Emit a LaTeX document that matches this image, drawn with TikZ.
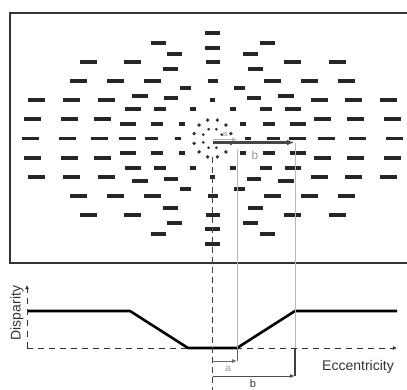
\documentclass[tikz,border=0pt]{standalone}
\usepackage{fontspec}
\setmainfont{Liberation Sans}
\usetikzlibrary{arrows.meta,calc}

\begin{document}
\begin{tikzpicture}[x=1pt, y=-1pt,
  bar/.style={line width=3.2pt, black!85},
  dotm/.style={fill=black!80},
  guide/.style={gray!55, line width=0.8pt},
  cline/.style={dashed, dash pattern=on 6pt off 4pt, black!75, line width=0.9pt},
  curve/.style={line width=2.6pt, black, line join=round},
  axis/.style={dashed, dash pattern=on 6pt off 5pt, line width=1pt, black!80,
               -{Latex[length=4pt, width=4pt]}},
  arr/.style={-{Latex[length=5pt, width=4pt]}, line width=1pt, black!70},
  lab/.style={font=\fontsize{14}{14}\selectfont, inner sep=1pt, black!80},
  sml/.style={font=\fontsize{10}{10}\selectfont, inner sep=1pt, gray!80}
]
\useasboundingbox (0,0) rectangle (407,390);

%% Stimulus frame
\draw[line width=1.6pt, black!80] (10,13) rectangle (410,263);

%% Centre of the pattern
\coordinate (ctr) at (212.5,138.5);

%% Dashes, mirrored into the four quadrants (dx/dy/width)
\foreach \dx/\dy/\w in {0/105.5/15, 0/90.5/15, 0/76.5/14, 0/57.5/10, 0/38.5/5,
    54.5/95.5/15, 38/84.5/15,
    124.5/76.5/17, 80/76.5/17, 42.5/69.5/15,
    134/57.5/17, 97/57.5/17, 60/57.5/17, 27/50.5/11,
    73/42.5/16, 41.5/40.5/14,
    176/38.5/17, 141/38.5/17, 106.5/38.5/17,
    80/29.5/16, 53/29.5/12, 20/29.5/6,
    180/19.5/17, 143/19.5/17, 110/19.5/17,
    85/14.5/16, 56/14.5/12, 30.5/14.5/6,
    182/0/17, 145/0/17, 113.5/0/17, 85/0/17, 61/0/13, 35/0/6}{
  \foreach \sx in {-1,1}{
    \foreach \sy in {-1,1}{
      \draw[bar] ($(ctr)+({\sx*\dx-\w/2},{\sy*\dy})$) -- ++(\w,0);
    }
  }
}

%% Dots round the centre
\foreach \i in {0,...,11}
  \fill[dotm] (ctr) ++(\i*30+15:19) circle (1.9);
\foreach \i in {0,...,7}
  \fill[dotm] (ctr) ++(\i*45+22.5:10) circle (1.5);

%% Radius arrows a and b
\coordinate (tipa) at (237,139.5);
\coordinate (tipb) at (294,142.5);
\draw[-{Latex[length=7pt, width=6pt]}, line width=2.4pt, gray!55!black]
  (ctr |- tipb) -- (tipb);
\draw[-{Latex[length=5pt, width=4pt]}, line width=1.3pt, gray!60]
  (ctr |- tipa) -- (tipa);
\node[sml, font=\fontsize{8}{8}\selectfont] (la) at (225,134) {a};
\node[sml, font=\fontsize{12}{12}\selectfont] (lb) at (255,155) {b};

%% Disparity profile
\coordinate (org) at (27,348);
\coordinate (ytop) at (27,285);
\coordinate (xend) at (397,348);
\draw[axis] (org) -- (ytop);
\draw[axis] (org) -- (xend);
\node[lab, rotate=90] (ldisp) at (17,313) {Disparity};
\node[lab, anchor=east] (lecc) at (395,367) {Eccentricity};

\coordinate (c1) at (28,311);
\coordinate (c2) at (130,311);
\coordinate (c3) at (188,348);
\coordinate (c4) at (237,348);
\coordinate (c5) at (295,311);
\coordinate (c6) at (397,311);
\draw[curve] (c1) -- (c2) -- (c3) -- (c4) -- (c5) -- (c6);

%% Guides from the pattern down to the profile
\coordinate (da0) at (212.5,361);
\coordinate (da1) at (237,361);
\coordinate (db0) at (212.5,376);
\coordinate (db1) at (295,376);
\draw[cline] (212.5,157) -- (212.5,390);
\draw[guide] (237,149) -- (c4);
\draw[guide] (295,143) -- (295,348);

%% Dimension arrows a and b
\draw[black!60, line width=1pt] (c4) -- (da1);
\draw[arr, black!60] (da0) -- (da1);
\draw[black!75, line width=1.2pt] (295,348) -- (db1);
\draw[arr] (db0) -- (db1);
\node[sml] (lda) at (228,369) {a};
\node[lab, font=\fontsize{11}{11}\selectfont] (ldb) at (253,384) {b};
\end{tikzpicture}
\end{document}
